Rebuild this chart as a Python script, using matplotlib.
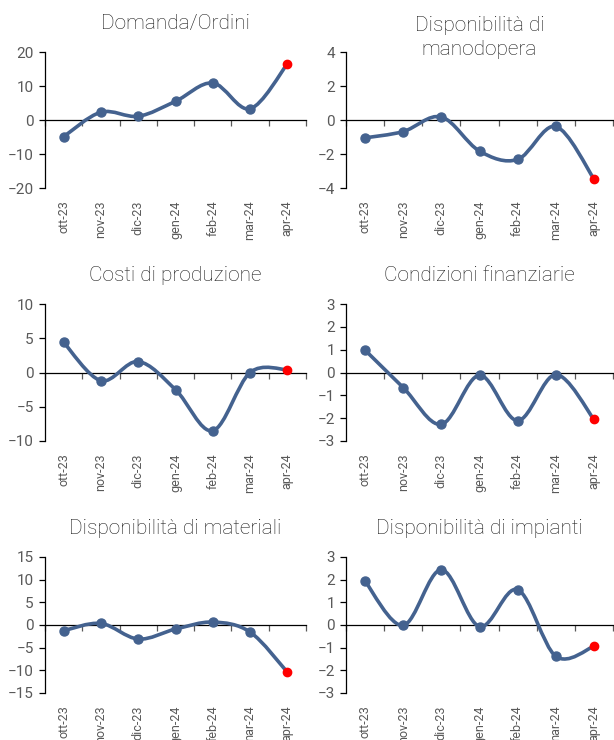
import numpy as np
import matplotlib
matplotlib.use("Agg")
import matplotlib.pyplot as plt
from matplotlib.path import Path
from matplotlib.patches import PathPatch

plt.rcParams['font.family'] = ['Roboto', 'DejaVu Sans']

months = ["ott-23", "nov-23", "dic-23", "gen-24", "feb-24", "mar-24", "apr-24"]

titles = ["Domanda/Ordini", "Disponibilità di\nmanodopera", "Costi di produzione",
          "Condizioni finanziarie", "Disponibilità di materiali", "Disponibilità di impianti"]

domanda = [-4.9, 2.3, 1.1, 5.5, 10.9, 3.3, 16.5]
manodopera = [-1.05, -0.68, 0.18, -1.83, -2.32, -0.38, -3.46]
costi = [4.4, -1.2, 1.6, -2.5, -8.5, 0.0, 0.4]
finanziarie = [0.98, -0.66, -2.27, -0.12, -2.11, -0.09, -2.05]
materiali = [-1.25, 0.35, -3.1, -0.9, 0.65, -1.55, -10.4]
impianti = [1.93, -0.02, 2.44, -0.07, 1.56, -1.38, -0.94]

series = [domanda, manodopera, costi, finanziarie, materiali, impianti]
ylims = [(-20, 20), (-4, 4), (-10, 10), (-3, 3), (-15, 15), (-3, 3)]
ysteps = [10, 2, 5, 1, 5, 1]

W, H = 614, 740
fig = plt.figure(figsize=(W / 100, H / 100), dpi=100)

col_x = [(45, 306), (346, 613)]
row_y = [(52, 188), (304, 441), (557, 693)]

line_color = "#44628F"

def smooth_path(xs, ys):
    pts = np.column_stack([xs, ys]).astype(float)
    n = len(pts)
    verts = [pts[0]]
    codes = [Path.MOVETO]
    for i in range(n - 1):
        p0 = pts[i - 1] if i > 0 else pts[i]
        p1 = pts[i]
        p2 = pts[i + 1]
        p3 = pts[i + 2] if i + 2 < n else pts[i + 1]
        c1 = p1 + (p2 - p0) / 6.0
        c2 = p2 - (p3 - p1) / 6.0
        verts += [c1, c2, p2]
        codes += [Path.CURVE4] * 3
    return Path(verts, codes)

for k in range(6):
    r, c = divmod(k, 2)
    x0, x1 = col_x[c]
    y0, y1 = row_y[r]
    ax = fig.add_axes([x0 / W, 1 - y1 / H, (x1 - x0) / W, (y1 - y0) / H])
    vals = series[k]
    xs = np.arange(len(months))
    lo, hi = ylims[k]
    ax.set_xlim(-0.5, len(months) - 0.5)
    ax.set_ylim(lo, hi)
    ax.set_facecolor("none")

    patch = PathPatch(smooth_path(xs, vals), fill=False, edgecolor=line_color,
                      linewidth=2.6, capstyle='round', joinstyle='round', zorder=3)
    ax.add_patch(patch)
    ax.plot(xs[:-1], vals[:-1], 'o', color=line_color, markersize=6.5, zorder=4, clip_on=False)
    ax.plot(xs[-1:], vals[-1:], 'o', color="#FF0000", markersize=6, zorder=5, clip_on=False)

    for s in ['top', 'right']:
        ax.spines[s].set_visible(False)
    ax.spines['left'].set_color('#000000')
    ax.spines['left'].set_linewidth(0.9)
    ax.spines['bottom'].set_position(('data', 0))
    ax.spines['bottom'].set_color('#000000')
    ax.spines['bottom'].set_linewidth(0.9)

    ax.set_yticks(np.arange(lo, hi + ysteps[k] / 2, ysteps[k]))
    ax.tick_params(axis='y', direction='out', length=4, width=0.9, color='#000000',
                   labelcolor='#595959', labelsize=11, pad=4)
    ax.set_xticks(np.arange(-0.5, len(months), 1.0))
    ax.tick_params(axis='x', direction='out', length=4, width=0.9, color='#595959',
                   labelbottom=False)

    sec = ax.secondary_xaxis('bottom')
    sec.set_xticks(xs, labels=months, rotation=90)
    sec.tick_params(length=0, pad=9, labelsize=9, labelcolor='#595959')
    sec.spines['bottom'].set_visible(False)

    nlines = titles[k].count("\n") + 1
    ybase = 1.17 - (nlines - 1) * 26.0 / (y1 - y0)
    ax.text(0.5, ybase, titles[k], transform=ax.transAxes, ha='center', va='baseline',
            fontsize=15, fontweight='light', color='#1a1a1a', linespacing=1.3)

fig.savefig("out.png", dpi=100)
